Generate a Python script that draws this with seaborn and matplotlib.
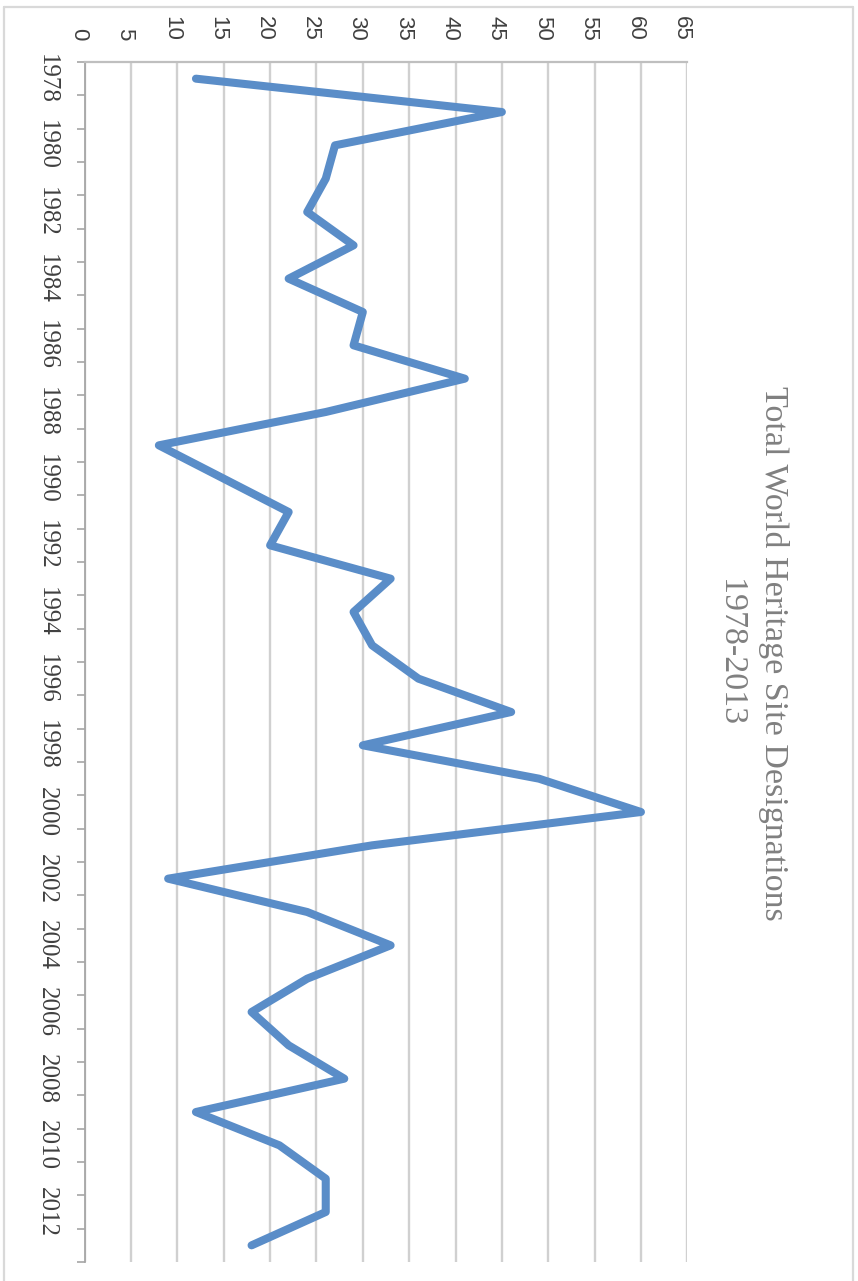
import matplotlib
matplotlib.use("Agg")
import matplotlib.pyplot as plt
import matplotlib.transforms as mtransforms
from matplotlib.lines import Line2D
import seaborn as sns
import pandas as pd

# World Heritage Site inscriptions per year
years = list(range(1978, 2014))
designations = [12, 45, 27, 26, 24, 29, 22, 30, 29, 41, 26, 8, 15, 22, 20, 33, 29, 31,
                36, 46, 30, 49, 60, 31, 9, 24, 33, 24, 18, 22, 28, 12, 21, 26, 26, 18]
value_ticks = list(range(0, 70, 5))
year_labels = [str(y) for y in years[::2]]
title_text = "Total World Heritage Site Designations\n1978-2013"

sns.set_theme(style="white")

W, H = 858, 1281
fig = plt.figure(figsize=(W / 100, H / 100), dpi=100)
fig.patch.set_facecolor("white")

# plot area (pixel geometry of the page turned on its side)
left_px, right_px, top_px, bottom_px = 84.7, 687.3, 62, 1262
ax = fig.add_axes([left_px / W, 1 - bottom_px / H,
                   (right_px - left_px) / W, (bottom_px - top_px) / H])
ax.set_facecolor("white")

df = pd.DataFrame({"year": years, "count": designations,
                   "pos": range(len(years))})
sns.lineplot(data=df, x="count", y="pos", orient="y", ax=ax,
             color="#5A8DC8", linewidth=5.8,
             solid_capstyle="round", solid_joinstyle="round")

# value axis runs across the top, categories run downward
ax.set_xlim(0, 65)
ax.set_ylim(len(years) - 0.5, -0.5)
ax.set_xlabel("")
ax.set_ylabel("")

grid_color = "#D0D0D0"
axis_color = "#A6A6A6"
ax.set_axisbelow(True)
ax.grid(axis="x", color=grid_color, linewidth=1.7)
ax.grid(axis="y", visible=False)

for side in ("right", "bottom"):
    ax.spines[side].set_visible(False)
ax.spines["left"].set_color(axis_color)
ax.spines["left"].set_linewidth(1.3)
ax.spines["top"].set_color("#BFBFBF")
ax.spines["top"].set_linewidth(1.6)

# value ticks along the top
ax.xaxis.tick_top()
ax.set_xticks(value_ticks)
ax.set_xticklabels([str(v) for v in value_ticks], rotation=270,
                   family="Liberation Sans", fontsize=16, color="#404040")
ax.tick_params(axis="x", which="major", length=0, pad=15.5)
shift = mtransforms.ScaledTranslation(-6 / 100, 0, fig.dpi_scale_trans)
for lbl in ax.get_xticklabels():
    lbl.set_transform(lbl.get_transform() + shift)

# category tick marks between years, labels on every other year
ax.set_yticks([i - 0.5 for i in range(len(years) + 1)])
ax.set_yticklabels([])
ax.tick_params(axis="y", which="major", direction="out", length=5.8,
               width=1.2, color=axis_color, left=True)
ax.set_yticks(list(range(0, len(years), 2)), minor=True)
ax.set_yticklabels(year_labels, minor=True, rotation=270,
                   family="Liberation Serif", fontsize=18, color="#404040",
                   va="center")
ax.tick_params(axis="y", which="minor", length=0, pad=19.5, left=True)

# title set along the right side
fig.text(752 / W, 1 - 653 / H, title_text, rotation=270,
         ha="center", va="center", multialignment="center",
         family="Liberation Serif", fontsize=24.5, color="#808080",
         linespacing=1.5)

# outer chart frame
frame_color = "#D9D9D9"
fig.add_artist(Line2D([3.5 / W, 3.5 / W], [0, 1 - 7 / H],
                      transform=fig.transFigure, color=frame_color, lw=1.6))
fig.add_artist(Line2D([852.5 / W, 852.5 / W], [0, 1 - 7 / H],
                      transform=fig.transFigure, color=frame_color, lw=1.6))
fig.add_artist(Line2D([3.5 / W, 852.5 / W], [1 - 7 / H, 1 - 7 / H],
                      transform=fig.transFigure, color=frame_color, lw=1.6))

fig.savefig("out.png", dpi=100, facecolor="white")
